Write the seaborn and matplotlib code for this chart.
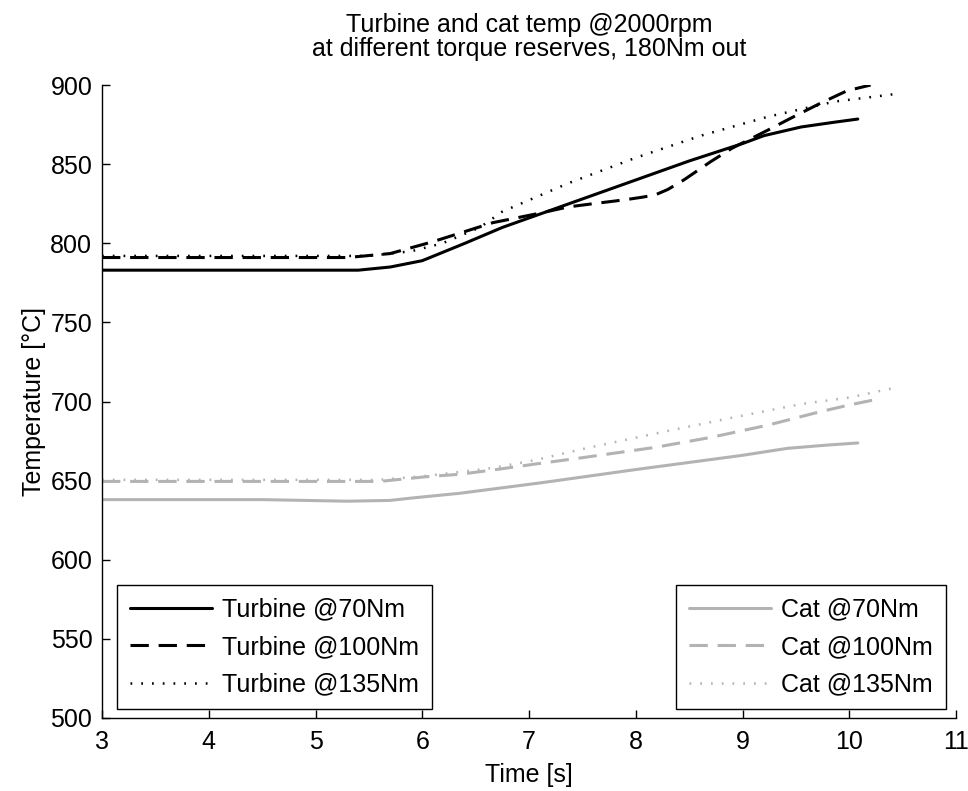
import matplotlib
matplotlib.use("Agg")
import matplotlib.pyplot as plt
import seaborn as sns
import pandas as pd

# Turbine temperatures [degC] vs time [s] for three torque reserves
turb70_t = [3.0, 5.4, 5.7, 6.0, 6.4, 6.75, 7.0, 7.5, 8.0, 8.5, 9.0, 9.2, 9.55, 9.86, 10.08]
turb70 = [783, 783, 785, 789, 800, 810, 816, 828, 840, 852, 863, 868, 873.5, 876.5, 878.5]

turb100_t = [3.0, 5.3, 5.7, 6.1, 6.66, 7.1, 7.37, 7.6, 7.9, 8.05, 8.18, 8.3, 8.45, 8.7,
             8.9, 9.24, 9.48, 9.73, 9.98, 10.2]
turb100 = [791, 791, 793.5, 801, 813, 819, 823, 825, 827.5, 829, 830.5, 834, 840, 851.5,
           860, 871.6, 880, 888.5, 896.4, 900]

turb135_t = [3.0, 5.5, 5.9, 6.19, 6.54, 6.75, 7.06, 7.37, 7.99, 8.61, 9.24, 9.86, 10.43]
turb135 = [792, 792, 795, 800, 810, 820, 829, 838, 853.8, 868, 880, 889.5, 894.3]

# Catalyst temperatures [degC] vs time [s]
cat70_t = [3.0, 4.5, 5.3, 5.7, 5.9, 6.35, 6.66, 7.12, 8.0, 9.0, 9.42, 9.8, 10.08]
cat70 = [638, 638, 637, 637.5, 639, 642, 644.7, 648.7, 657, 666, 670.4, 672.5, 673.8]

cat100_t = [3.0, 5.6, 6.04, 6.35, 6.66, 7.06, 7.5, 8.18, 8.71, 9.24, 9.73, 10.0, 10.23]
cat100 = [649.5, 649.5, 652.5, 654, 656.7, 660.5, 664.5, 671, 677.4, 685.1, 693.6, 697.8, 701]

cat135_t = [3.0, 5.6, 6.04, 6.66, 7.06, 7.53, 8.3, 8.92, 9.55, 10.0, 10.43]
cat135 = [650.5, 650.5, 653, 658, 663, 670.4, 681.4, 690, 698.4, 702.5, 708.7]

labels = ["Turbine @70Nm", "Turbine @100Nm", "Turbine @135Nm",
          "Cat @70Nm", "Cat @100Nm", "Cat @135Nm"]

x_ticks = [3, 4, 5, 6, 7, 8, 9, 10, 11]
y_ticks = [500, 550, 600, 650, 700, 750, 800, 850, 900]

sns.set_style("ticks")
plt.rcParams["font.family"] = ["Liberation Sans", "DejaVu Sans"]
plt.rcParams["text.color"] = "black"
plt.rcParams["axes.labelcolor"] = "black"
plt.rcParams["xtick.color"] = "black"
plt.rcParams["ytick.color"] = "black"
FS = 18

fig = plt.figure(figsize=(9.68, 7.91), dpi=100)
ax = fig.add_axes([0.1054, 0.0923, 0.8822, 0.8002])

black = "#000000"
gray = "#b3b3b3"
solid = "-"
dashed = (0, (6, 3.2))
dotted = (0, (0.7, 3.6))

series = [
    (turb70_t, turb70, black, solid, 2.2),
    (turb100_t, turb100, black, dashed, 2.2),
    (turb135_t, turb135, black, dotted, 1.8),
    (cat70_t, cat70, gray, solid, 2.2),
    (cat100_t, cat100, gray, dashed, 2.2),
    (cat135_t, cat135, gray, dotted, 1.8),
]

for (t, v, col, ls, lw), name in zip(series, labels):
    df = pd.DataFrame({"time": t, "temp": v})
    sns.lineplot(data=df, x="time", y="temp", ax=ax, color=col,
                 linestyle=ls, linewidth=lw, label=name, legend=False)

ax.set_xlim(3, 11)
ax.set_ylim(500, 900)
ax.set_xticks(x_ticks)
ax.set_yticks(y_ticks)
ax.tick_params(direction="in", length=6, width=1.0, labelsize=FS,
               colors="black")
ax.tick_params(axis="x", pad=9)
ax.tick_params(axis="y", pad=7)
for side in ("top", "right"):
    ax.spines[side].set_visible(False)
for side in ("left", "bottom"):
    ax.spines[side].set_linewidth(1.0)
    ax.spines[side].set_color("black")

ax.set_xlabel("Time [s]", fontsize=FS, labelpad=6)
ax.set_ylabel("Temperature [°C]", fontsize=FS, labelpad=3)
ax.set_title("Turbine and cat temp @2000rpm\nat different torque reserves, 180Nm out",
             fontsize=FS, linespacing=1.0, pad=21, color="black")

lines = ax.get_lines()
leg_kw = dict(fontsize=FS, frameon=True, fancybox=False, framealpha=1,
              edgecolor="black", handlelength=3.3, handletextpad=0.4,
              labelspacing=0.54, borderpad=0.5)
leg1 = ax.legend(lines[:3], labels[:3], loc="lower left",
                 bbox_to_anchor=(0.0176, 0.0142), borderaxespad=0, **leg_kw)
leg1.get_frame().set_linewidth(1.0)
ax.add_artist(leg1)
leg2 = ax.legend(lines[3:], labels[3:], loc="lower right",
                 bbox_to_anchor=(0.988, 0.0142), borderaxespad=0, **leg_kw)
leg2.get_frame().set_linewidth(1.0)

fig.savefig("out.png", dpi=100, facecolor="white")
